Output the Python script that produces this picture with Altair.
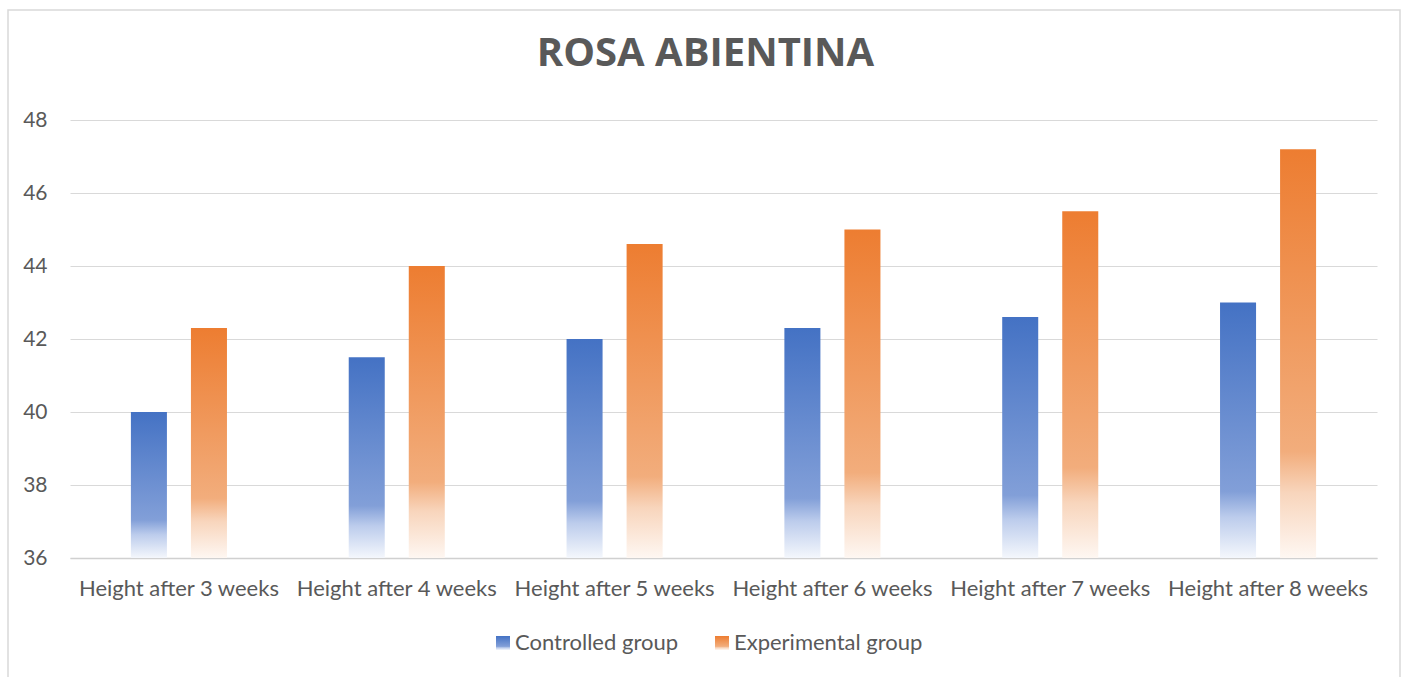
import altair as alt
import pandas as pd

categories = [
    "Height after 3 weeks",
    "Height after 4 weeks",
    "Height after 5 weeks",
    "Height after 6 weeks",
    "Height after 7 weeks",
    "Height after 8 weeks",
]
series = ["Controlled group", "Experimental group"]
controlled = [40, 41.5, 42, 42.3, 42.6, 43]
experimental = [42.3, 44, 44.6, 45, 45.5, 47.2]
y_ticks = [36, 38, 40, 42, 44, 46, 48]

df = pd.DataFrame({
    "category": categories * 2,
    "group": [series[0]] * len(categories) + [series[1]] * len(categories),
    "value": controlled + experimental,
})

FONT = "Lato"
TXT = "#595959"

blue_stops = [
    {"offset": 0, "color": "#4472C4"},
    {"offset": 0.74, "color": "#829FD8"},
    {"offset": 0.84, "color": "#BCCCEC"},
    {"offset": 1, "color": "#F4F7FC"},
]
orange_stops = [
    {"offset": 0, "color": "#ED7D31"},
    {"offset": 0.74, "color": "#F2AD7C"},
    {"offset": 0.84, "color": "#F8D5BC"},
    {"offset": 1, "color": "#FEF7F2"},
]


def grad_expr(stops):
    s = ", ".join("{offset: %s, color: '%s'}" % (st["offset"], st["color"]) for st in stops)
    return "{gradient: 'linear', x1: 0, y1: 0, x2: 0, y2: 1, stops: [%s]}" % s


x_enc = alt.X(
    "category:N",
    sort=categories,
    scale=alt.Scale(domain=categories, paddingInner=0.559, paddingOuter=0.2796),
    axis=alt.Axis(
        title=None, labelAngle=0, labelFontSize=22, labelColor=TXT, labelFont=FONT,
        labelPadding=20, labelLimit=400, ticks=False, domainColor="#D0D0D0",
        domainWidth=1.5, grid=False,
    ),
)
xo_enc = alt.XOffset("group:N", scale=alt.Scale(domain=series, paddingInner=0.4, paddingOuter=0))
y_enc = alt.Y(
    "value:Q",
    scale=alt.Scale(domain=[36, 48], zero=False, nice=False),
    axis=alt.Axis(
        title=None, values=y_ticks, labelFontSize=21, labelColor=TXT, labelFont=FONT,
        labelPadding=23, ticks=False, domain=False, gridColor="#D9D9D9", gridWidth=1,
    ),
)

frame = alt.Chart(pd.DataFrame({"k": [0]})).mark_rect(
    fill="transparent", stroke="#D9D9D9", strokeWidth=1.5
).encode(
    x=alt.value(-62), x2=alt.value(1330), y=alt.value(-110), y2=alt.value(580)
)

bars = alt.Chart(df).mark_bar().encode(
    x=x_enc,
    xOffset=xo_enc,
    y=y_enc,
    y2=alt.Y2Datum(36),
    fill=alt.Fill(
        "group:N",
        scale=alt.Scale(
            domain=series,
            range=[{"expr": grad_expr(blue_stops)}, {"expr": grad_expr(orange_stops)}],
        ),
        legend=alt.Legend(
            title=None, orient="none", direction="horizontal", legendX=422, legendY=512,
            symbolType="square", symbolSize=196, symbolStrokeWidth=0, symbolOpacity=1,
            labelFontSize=22, labelColor=TXT, labelFont=FONT, labelOffset=1,
            labelLimit=400, columnPadding=32,
        ),
    ),
)

chart = alt.layer(frame, bars).properties(
    width=1307,
    height=438,
    view=alt.ViewBackground(stroke="transparent", strokeWidth=0),
    title=alt.TitleParams(
        "ROSA ABIENTINA", fontSize=40, fontWeight="bold", color=TXT, font="Open Sans",
        anchor="middle", frame="group", dx=-18, offset=-96.5, baseline="alphabetic",
    ),
    padding={"left": 70, "top": 120, "right": 32, "bottom": 119},
    autosize=alt.AutoSizeParams(type="none"),
).configure_view(stroke="transparent", strokeWidth=0).configure(background="white")

chart.save("out.html", embed_options={"renderer": "svg", "actions": False})
